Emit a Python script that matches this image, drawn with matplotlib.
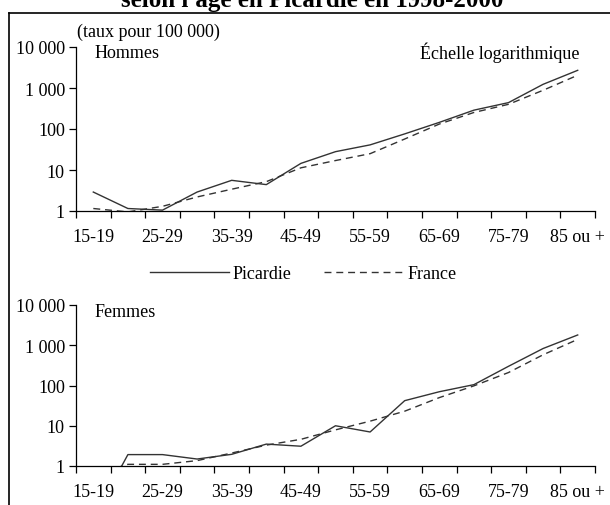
import numpy as np
import matplotlib
matplotlib.use("Agg")
import matplotlib.pyplot as plt
from matplotlib.lines import Line2D
from matplotlib.ticker import FixedLocator, NullLocator

plt.rcParams["font.family"] = ["Liberation Serif", "DejaVu Serif"]

ages = ["15-19", "20-24", "25-29", "30-34", "35-39", "40-44", "45-49", "50-54",
        "55-59", "60-64", "65-69", "70-74", "75-79", "80-84", "85 ou +"]

# taux pour 100 000
hommes_picardie = [2.9, 1.15, 1.05, 2.9, 5.6, 4.4, 14.5, 28, 41, 76, 145, 288, 440, 1230, 2700]
hommes_france = [1.15, 0.95, 1.3, 2.2, 3.4, 5.2, 11.3, 17, 25, 57, 132, 253, 400, 880, 2050]
femmes_picardie = [0.05, 1.92, 1.92, 1.49, 1.95, 3.5, 3.1, 10, 7, 42, 70, 105, 300, 830, 1800]
femmes_france = [0.6, 1.1, 1.1, 1.36, 2.1, 3.3, 4.6, 7.9, 13, 23, 50, 98, 210, 580, 1400]

yticks = [1, 10, 100, 1000, 10000]
ylabels = ["1", "10", "100", "1 000", "10 000"]

W, H = 610, 506
FS = 13


def panel(top, bottom):
    ax = fig.add_axes([76 / W, 1 - bottom / H, (595 - 76) / W, (bottom - top) / H])
    ax.set_yscale("log")
    ax.set_ylim(1, 10000)
    ax.set_xlim(-0.5, len(ages) - 0.5)
    ax.yaxis.set_major_locator(FixedLocator(yticks))
    ax.yaxis.set_minor_locator(NullLocator())
    ax.set_yticklabels(ylabels, fontsize=FS)
    ax.xaxis.set_major_locator(FixedLocator(np.arange(-0.5, len(ages), 1)))
    ax.xaxis.set_major_formatter(plt.NullFormatter())
    ax.xaxis.set_minor_locator(FixedLocator(np.arange(0, len(ages), 2)))
    ax.set_xticklabels([ages[i] for i in range(0, len(ages), 2)], minor=True, fontsize=FS)
    ax.tick_params(axis="x", which="minor", length=0, pad=12)
    ax.tick_params(axis="both", which="major", direction="out", length=5, width=0.9)
    ax.tick_params(axis="y", which="major", pad=3)
    for s in ["top", "right"]:
        ax.spines[s].set_visible(False)
    for s in ["left", "bottom"]:
        ax.spines[s].set_linewidth(0.9)
    return ax


fig = plt.figure(figsize=(W / 100, H / 100), dpi=100)
x = np.arange(len(ages))

ax1 = panel(48, 212)
l1, = ax1.plot(x, hommes_picardie, color="#333333", lw=1.0)
l2, = ax1.plot(x, hommes_france, color="#333333", lw=1.0, dashes=(5, 3.5))
fig.text(95 / W, 1 - 53 / H, "Hommes", fontsize=FS, va="center")
fig.text(580 / W, 1 - 53 / H, "Échelle logarithmique", fontsize=FS, va="center", ha="right")
fig.text(77 / W, 1 - 32 / H, "(taux pour 100 000)", fontsize=FS, va="center")

ax2 = panel(306, 467)
ax2.plot(x, femmes_picardie, color="#333333", lw=1.0)
ax2.plot(x, femmes_france, color="#333333", lw=1.0, dashes=(5, 3.5))
fig.text(95 / W, 1 - 313 / H, "Femmes", fontsize=FS, va="center")

fig.legend([l1, l2], ["Picardie", "France"], loc="center", bbox_to_anchor=(303 / W, 1 - 275 / H),
           ncol=2, frameon=False, fontsize=FS, handlelength=4.4, handletextpad=0.2,
           columnspacing=1.8)

fig.text(312 / W, 1 - 7 / H, "selon l'âge en Picardie en 1998-2000", ha="center", va="baseline",
         fontsize=18, fontweight="bold")

fig.add_artist(Line2D([9 / W, 9 / W], [0, 1 - 14 / H], color="black", lw=1.2))
fig.add_artist(Line2D([9 / W, 1], [1 - 14 / H, 1 - 14 / H], color="black", lw=1.2))

fig.savefig("out.png", dpi=100)
